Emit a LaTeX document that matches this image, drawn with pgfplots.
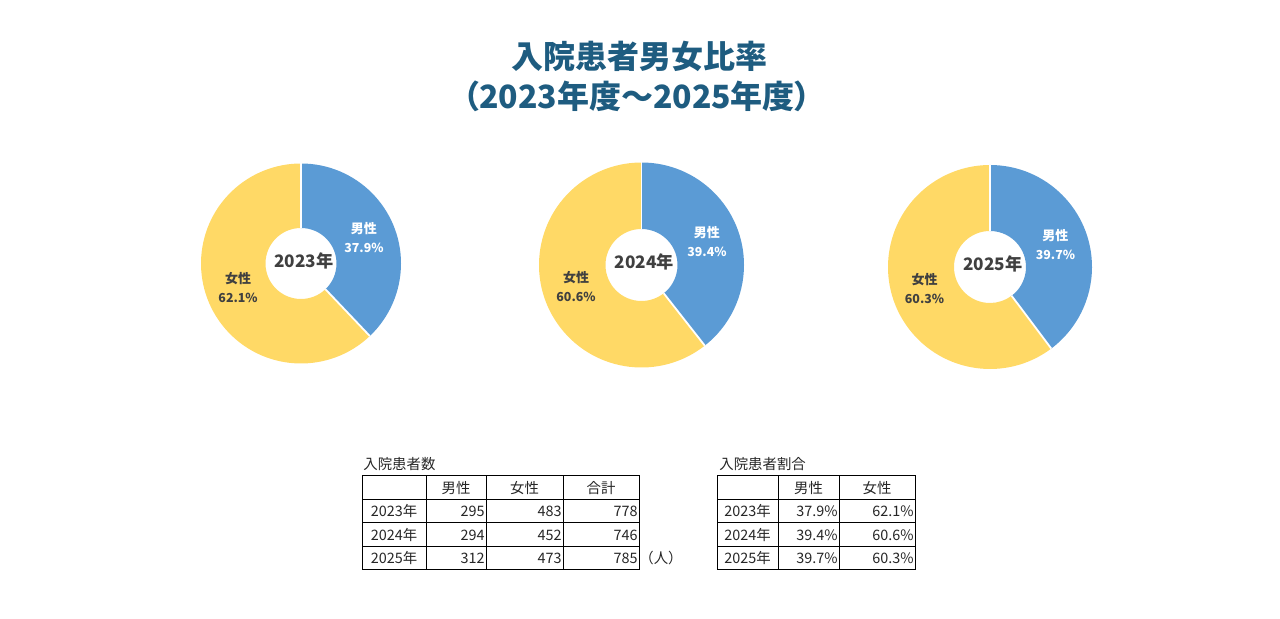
\documentclass[border=0pt]{standalone}
\usepackage{pgfplots}
\pgfplotsset{compat=1.18}
\usepackage{fontspec}
\setmainfont{Noto Sans CJK JP}
\newfontfamily\jppalt{Noto Sans CJK JP}[RawFeature=+palt]
\definecolor{maleblue}{HTML}{5B9BD5}
\definecolor{femyellow}{HTML}{FFD966}
\definecolor{titleblue}{HTML}{1E5C80}
\definecolor{lbl}{HTML}{404040}
\definecolor{tbl}{HTML}{262626}
\newcommand\lblA{\bfseries\fontsize{6.5}{8}\selectfont}
\newcommand\lblB{\bfseries\fontsize{6.2}{8}\selectfont}
\newcommand\ctr{\bfseries\fontsize{8.6}{10}\selectfont}
\newcommand\tfont{\fontsize{7.2}{8.6}\selectfont}
% #1 cx, #2 cy (px), #3 outer R (px), #4 inner r (px), #5 male, #6 female, #7 year
\newcommand{\donut}[7]{%
  \pgfmathsetmacro\tot{#5+#6}%
  \pgfmathsetmacro\shm{#5/\tot}%
  \pgfmathsetmacro\shf{#6/\tot}%
  \pgfmathsetmacro\ang{90-360*\shm}%
  \pgfmathsetmacro\mmid{(90+\ang)/2}%
  \pgfmathsetmacro\fmid{(\ang-270)/2}%
  \pgfmathsetmacro\Rp{#3/2}%
  \pgfmathsetmacro\rp{#4/2}%
  \pgfmathsetmacro\lr{(#3+#4)/4}%
  \pgfmathsetmacro\mpct{100*\shm}%
  \pgfmathsetmacro\fpct{100*\shf}%
  \edef\doit{%
    \noexpand\fill[maleblue] ([shift={(90:\Rp pt)}]axis cs:#1,#2) arc[start angle=90,end angle=\ang,radius=\Rp pt]
      -- ([shift={(\ang:\rp pt)}]axis cs:#1,#2) arc[start angle=\ang,end angle=90,radius=\rp pt] -- cycle;
    \noexpand\fill[femyellow] ([shift={(\ang:\Rp pt)}]axis cs:#1,#2) arc[start angle=\ang,end angle=-270,radius=\Rp pt]
      -- ([shift={(90:\rp pt)}]axis cs:#1,#2) arc[start angle=-270,end angle=\ang,radius=\rp pt] -- cycle;
    \noexpand\draw[white,line width=0.9pt] ([shift={(90:\rp pt)}]axis cs:#1,#2) -- ([shift={(90:\Rp pt)}]axis cs:#1,#2);
    \noexpand\draw[white,line width=0.9pt] ([shift={(\ang:\rp pt)}]axis cs:#1,#2) -- ([shift={(\ang:\Rp pt)}]axis cs:#1,#2);
    \noexpand\node[text=white,font=\noexpand\lblA] at ([shift={(\mmid:\lr pt)},yshift=4.8pt]axis cs:#1,#2) {男性};
    \noexpand\node[text=white,font=\noexpand\lblB] at ([shift={(\mmid:\lr pt)},yshift=-4.8pt]axis cs:#1,#2) {\noexpand\pgfmathprintnumber[fixed,fixed zerofill,precision=1,assume math mode=true]{\mpct}\noexpand\%};
    \noexpand\node[text=lbl,font=\noexpand\lblA] at ([shift={(\fmid:\lr pt)},yshift=4.8pt]axis cs:#1,#2) {女性};
    \noexpand\node[text=lbl,font=\noexpand\lblB] at ([shift={(\fmid:\lr pt)},yshift=-4.8pt]axis cs:#1,#2) {\noexpand\pgfmathprintnumber[fixed,fixed zerofill,precision=1,assume math mode=true]{\fpct}\noexpand\%};
    \noexpand\node[text=lbl,font=\noexpand\ctr] at ([xshift=1.5pt,yshift=1.5pt]axis cs:#1,#2) {#7年};
  }%
  \doit
}
\begin{document}
\begin{tikzpicture}
\begin{axis}[x=0.5pt,y=0.5pt,xmin=0,xmax=1280,ymin=0,ymax=619,y dir=reverse,
  hide axis,clip=false]
\path (axis cs:0,0) rectangle (axis cs:1280,619);
% title
\node[text=titleblue,font=\bfseries\fontsize{16}{19}\selectfont] at (axis cs:639,56) {入院患者男女比率};
\node[text=titleblue,font=\bfseries\fontsize{16}{19}\selectfont\jppalt] at (axis cs:637,96) {（2023年度～2025年度）};
% donuts: male, female counts
\donut{301}{263.5}{100}{35.5}{295}{483}{2023}
\donut{641.5}{265}{102.5}{36}{294}{452}{2024}
\donut{990}{267}{102}{36}{312}{473}{2025}
% table 1
\node[anchor=west,text=tbl,font=\tfont,inner xsep=0pt] at (axis cs:363,464) {入院患者数};
\draw[black,line width=0.5pt] (axis cs:362,476) rectangle (axis cs:639,570);
\draw[black,line width=0.5pt] (axis cs:362,499.5) -- (axis cs:639,499.5);
\draw[black,line width=0.5pt] (axis cs:362,523) -- (axis cs:639,523);
\draw[black,line width=0.5pt] (axis cs:362,546.5) -- (axis cs:639,546.5);
\draw[black,line width=0.5pt] (axis cs:426,476) -- (axis cs:426,570);
\draw[black,line width=0.5pt] (axis cs:486,476) -- (axis cs:486,570);
\draw[black,line width=0.5pt] (axis cs:563,476) -- (axis cs:563,570);
\node[text=tbl,font=\tfont] at (axis cs:456,488) {男性};
\node[text=tbl,font=\tfont] at (axis cs:524.5,488) {女性};
\node[text=tbl,font=\tfont] at (axis cs:601,488) {合計};
\node[text=tbl,font=\tfont] at (axis cs:394,511) {2023年};
\node[text=tbl,font=\tfont] at (axis cs:394,535) {2024年};
\node[text=tbl,font=\tfont] at (axis cs:394,558) {2025年};
\node[anchor=east,text=tbl,font=\tfont,inner xsep=0.5pt] at (axis cs:486,511) {295};
\node[anchor=east,text=tbl,font=\tfont,inner xsep=0.5pt] at (axis cs:486,535) {294};
\node[anchor=east,text=tbl,font=\tfont,inner xsep=0.5pt] at (axis cs:486,558) {312};
\node[anchor=east,text=tbl,font=\tfont,inner xsep=0.5pt] at (axis cs:563,511) {483};
\node[anchor=east,text=tbl,font=\tfont,inner xsep=0.5pt] at (axis cs:563,535) {452};
\node[anchor=east,text=tbl,font=\tfont,inner xsep=0.5pt] at (axis cs:563,558) {473};
\node[anchor=east,text=tbl,font=\tfont,inner xsep=0.5pt] at (axis cs:639,511) {778};
\node[anchor=east,text=tbl,font=\tfont,inner xsep=0.5pt] at (axis cs:639,535) {746};
\node[anchor=east,text=tbl,font=\tfont,inner xsep=0.5pt] at (axis cs:639,558) {785};
\node[text=tbl,font=\tfont] at (axis cs:661,558) {（人）};
% table 2
\node[anchor=west,text=tbl,font=\tfont,inner xsep=0pt] at (axis cs:719,464) {入院患者割合};
\draw[black,line width=0.5pt] (axis cs:717,476) rectangle (axis cs:915,570);
\draw[black,line width=0.5pt] (axis cs:717,499.5) -- (axis cs:915,499.5);
\draw[black,line width=0.5pt] (axis cs:717,523) -- (axis cs:915,523);
\draw[black,line width=0.5pt] (axis cs:717,546.5) -- (axis cs:915,546.5);
\draw[black,line width=0.5pt] (axis cs:778,476) -- (axis cs:778,570);
\draw[black,line width=0.5pt] (axis cs:839,476) -- (axis cs:839,570);
\node[text=tbl,font=\tfont] at (axis cs:808.5,488) {男性};
\node[text=tbl,font=\tfont] at (axis cs:877,488) {女性};
\node[text=tbl,font=\tfont] at (axis cs:747.5,511) {2023年};
\node[text=tbl,font=\tfont] at (axis cs:747.5,535) {2024年};
\node[text=tbl,font=\tfont] at (axis cs:747.5,558) {2025年};
\node[anchor=east,text=tbl,font=\tfont,inner xsep=0.5pt] at (axis cs:839,511) {37.9\%};
\node[anchor=east,text=tbl,font=\tfont,inner xsep=0.5pt] at (axis cs:839,535) {39.4\%};
\node[anchor=east,text=tbl,font=\tfont,inner xsep=0.5pt] at (axis cs:839,558) {39.7\%};
\node[anchor=east,text=tbl,font=\tfont,inner xsep=0.5pt] at (axis cs:915,511) {62.1\%};
\node[anchor=east,text=tbl,font=\tfont,inner xsep=0.5pt] at (axis cs:915,535) {60.6\%};
\node[anchor=east,text=tbl,font=\tfont,inner xsep=0.5pt] at (axis cs:915,558) {60.3\%};
\end{axis}
\end{tikzpicture}
\end{document}
